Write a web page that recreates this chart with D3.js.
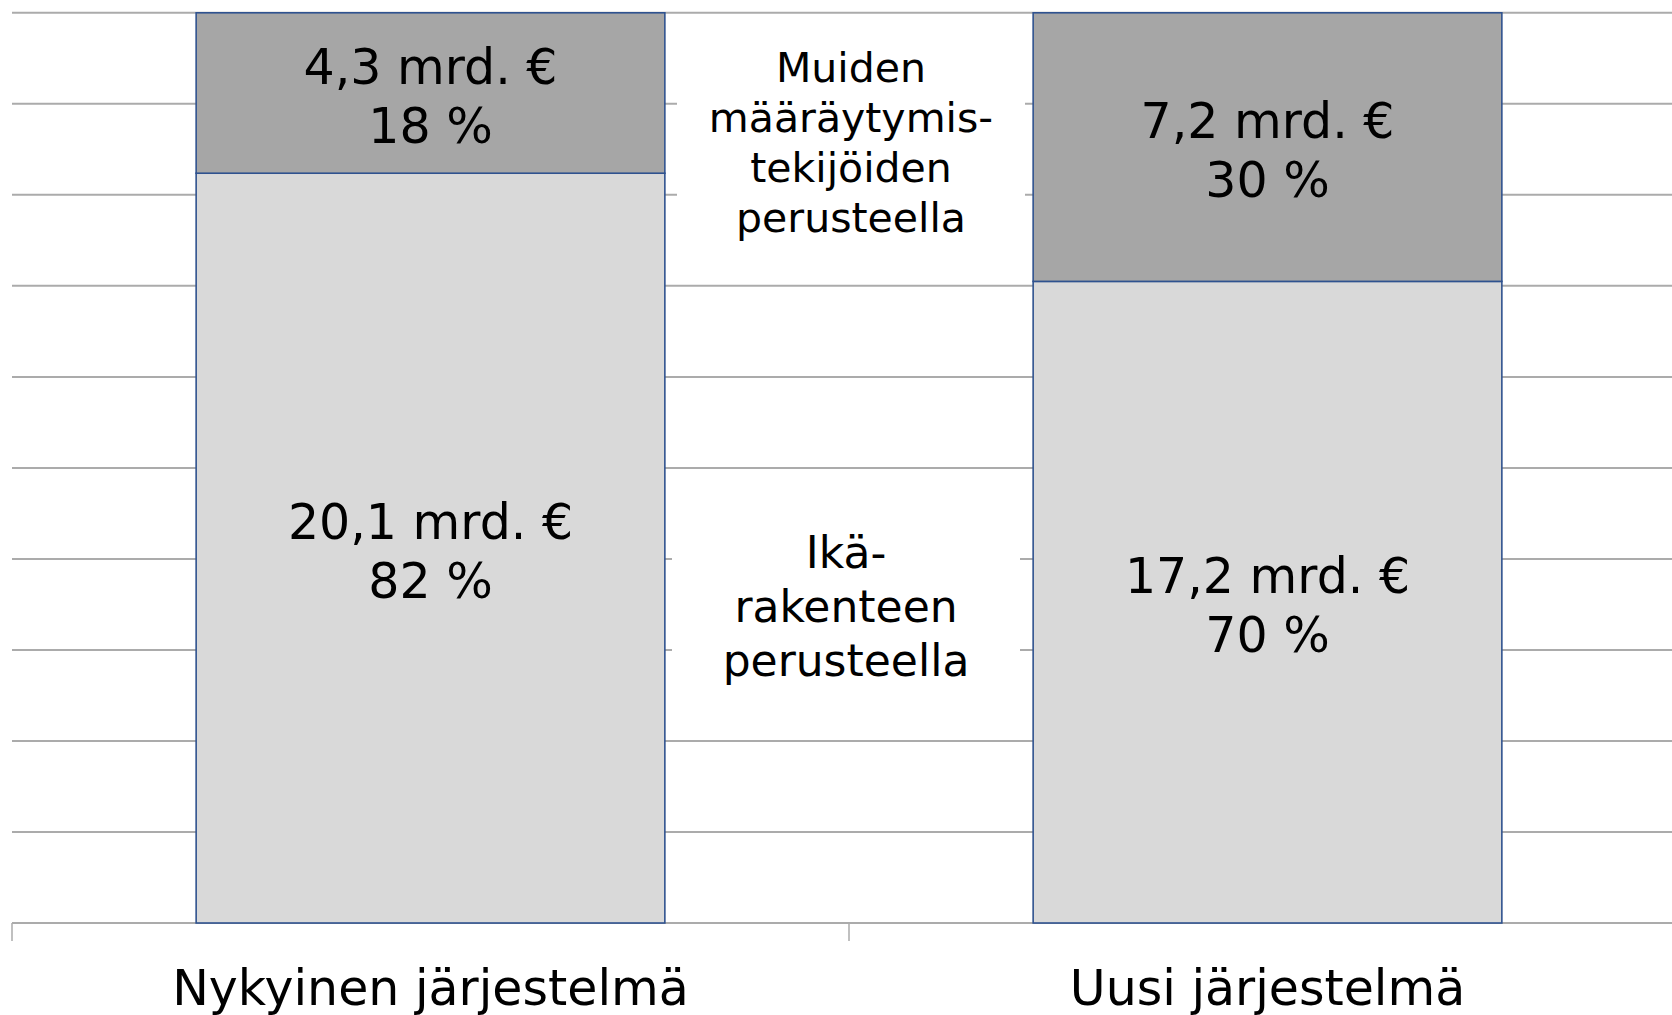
<!DOCTYPE html>
<html>
<head>
<meta charset="utf-8">
<script src="https://cdn.jsdelivr.net/npm/d3@7"></script>
<style>
  html, body { margin: 0; padding: 0; background: #fff; overflow: hidden; }
  text { font-family: "DejaVu Sans", Verdana, sans-serif; fill: #000; }
</style>
</head>
<body>
<svg id="chart" width="1672" height="1015"></svg>
<script>
// data: billions of euros per system, split by basis
var categories = ['Nykyinen järjestelmä', 'Uusi järjestelmä']
var ageBased = [20.1, 17.2]     // Ikärakenteen perusteella
var otherBased = [4.3, 7.2]     // Muiden määräytymistekijöiden perusteella
var pctLabels = [['82 %', '18 %'], ['70 %', '30 %']]
var seriesLines = [['Ikä-', 'rakenteen', 'perusteella'], ['Muiden', 'määräytymis-', 'tekijöiden', 'perusteella']]
var gridTicks = d3.range(0.1, 1.0001, 0.1)

var fmt = v => d3.format('.1f')(v).replace('.', ',') + ' mrd. €'

var rows = categories.map((c, i) => {
  var total = ageBased[i] + otherBased[i]
  return {cat: c, age: ageBased[i] / total, other: otherBased[i] / total,
          ageVal: ageBased[i], otherVal: otherBased[i], pct: pctLabels[i]}
})

var stack = d3.stack().keys(['age', 'other'])(rows)

var svg = d3.select('#chart')

// plot runs past the right edge, as in the original crop
var x = d3.scaleBand().domain(categories).range([12, 1686]).padding(0)
var y = d3.scaleLinear().domain([0, 1]).range([923, 12.8])
var barW = x.bandwidth() * 0.56
var colors = {age: '#d9d9d9', other: '#a6a6a6'}

// gridlines
svg.append('g').selectAll('line')
  .data(gridTicks)
  .join('line')
  .attr('x1', 12).attr('x2', 1686)
  .attr('y1', d => y(d)).attr('y2', d => y(d))
  .attr('stroke', '#ababab').attr('stroke-width', 2)

// x axis
var xAxis = svg.append('g').attr('transform', 'translate(0,' + y(0) + ')')
xAxis.append('line').attr('x1', 12).attr('x2', 1686)
  .attr('stroke', '#ababab').attr('stroke-width', 2)
xAxis.selectAll('.tick')
  .data(d3.range(categories.length + 1))
  .join('line')
  .attr('x1', i => 12 + i * x.bandwidth())
  .attr('x2', i => 12 + i * x.bandwidth())
  .attr('y1', 0).attr('y2', 18)
  .attr('stroke', '#ababab').attr('stroke-width', 1.5)
xAxis.selectAll('text')
  .data(categories)
  .join('text')
  .attr('x', d => x(d) + x.bandwidth() / 2)
  .attr('y', 82)
  .attr('text-anchor', 'middle')
  .attr('font-size', 49)
  .text(d => d)

// bars
var layers = svg.append('g').selectAll('g')
  .data(stack)
  .join('g')
  .attr('fill', d => colors[d.key])

layers.selectAll('rect')
  .data(d => d)
  .join('rect')
  .attr('x', d => x(d.data.cat) + (x.bandwidth() - barW) / 2)
  .attr('width', barW)
  .attr('y', d => y(d[1]))
  .attr('height', d => y(d[0]) - y(d[1]))
  .attr('stroke', '#2f528f').attr('stroke-width', 1.6)

// value labels
layers.each(function(layer) {
  d3.select(this).selectAll('text')
    .data(layer)
    .join('text')
    .attr('text-anchor', 'middle')
    .attr('font-size', 49)
    .attr('fill', '#000')
    .each(function(d) {
      var cx = x(d.data.cat) + x.bandwidth() / 2
      var cy = (y(d[0]) + y(d[1])) / 2
      var val = layer.key === 'age' ? d.data.ageVal : d.data.otherVal
      var pct = layer.key === 'age' ? d.data.pct[0] : d.data.pct[1]
      var t = d3.select(this)
      t.append('tspan').attr('x', cx).attr('y', cy - 9).text(fmt(val))
      t.append('tspan').attr('x', cx).attr('y', cy + 50).text(pct)
    })
})

// series name boxes between the bars
var midX = x(categories[1])
var boxes = [
  {lines: seriesLines[1], top: 0.997, bottom: 0.707, size: 41, lh: 50, dx: 2, dy: -5},
  {lines: seriesLines[0], top: 0.49, bottom: 0.207, size: 44, lh: 54, dx: -3, dy: 0}
]
boxes.forEach(b => {
  var cx = midX + b.dx
  svg.append('rect')
    .attr('x', cx - 174).attr('width', 348)
    .attr('y', y(b.top)).attr('height', y(b.bottom) - y(b.top))
    .attr('fill', '#fff')
  var cy = (y(b.top) + y(b.bottom)) / 2 + b.dy
  var first = cy - (b.lines.length - 1) * b.lh / 2 + b.size * 0.36
  var t = svg.append('text').attr('text-anchor', 'middle').attr('font-size', b.size)
  b.lines.forEach((l, i) => {
    t.append('tspan').attr('x', cx).attr('y', first + i * b.lh).text(l)
  })
})
</script>
</body>
</html>
